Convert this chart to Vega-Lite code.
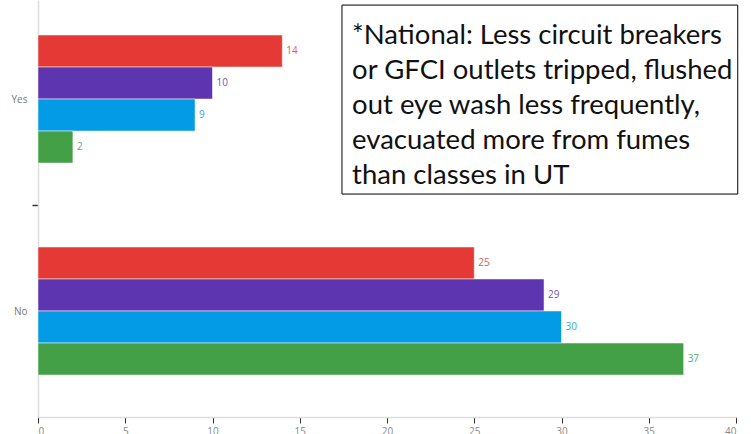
{
  "$schema": "https://vega.github.io/schema/vega-lite/v6.json",
  "width": 698,
  "height": 417,
  "autosize": "none",
  "padding": {"left": 38, "top": 0, "right": 15, "bottom": 17},
  "config": {"view": {"stroke": null}, "font": "Open Sans"},
  "data": {
    "values": [
      {"answer": "Yes", "group": "Series 1", "count": 14},
      {"answer": "Yes", "group": "Series 2", "count": 10},
      {"answer": "Yes", "group": "Series 3", "count": 9},
      {"answer": "Yes", "group": "Series 4", "count": 2},
      {"answer": "No", "group": "Series 1", "count": 25},
      {"answer": "No", "group": "Series 2", "count": 29},
      {"answer": "No", "group": "Series 3", "count": 30},
      {"answer": "No", "group": "Series 4", "count": 37}
    ]
  },
  "layer": [
    {
      "mark": {"type": "bar", "stroke": "white", "strokeWidth": 0.5},
      "encoding": {
        "y": {
          "field": "answer", "type": "nominal", "title": null,
          "scale": {"domain": ["Yes", "No"], "paddingInner": 0.396, "paddingOuter": 0.1816, "align": 0.455},
          "axis": {"domainColor": "#dddddd", "domainWidth": 1.5, "labelColor": "#777777", "labelFontSize": 10, "labelPadding": 5, "tickOffset": -106, "labelOffset": 106, "tickColor": "#333333", "tickSize": 6, "tickWidth": 1.5}
        },
        "yOffset": {"field": "group", "sort": ["Series 1", "Series 2", "Series 3", "Series 4"], "scale": {"paddingInner": 0, "paddingOuter": 0}},
        "x": {
          "field": "count", "type": "quantitative", "title": null,
          "scale": {"domain": [0, 40], "nice": false},
          "axis": {"values": [0, 5, 10, 15, 20, 25, 30, 35, 40], "grid": false, "domainColor": "#dddddd", "domainWidth": 1.5, "labelColor": "#888888", "labelFontSize": 10, "labelPadding": 3, "tickColor": "#333333", "tickSize": 6, "tickWidth": 1}
        },
        "color": {
          "field": "group", "legend": null,
          "scale": {"domain": ["Series 1", "Series 2", "Series 3", "Series 4"], "range": ["#E53935", "#5E35B1", "#039BE5", "#43A047"]}
        }
      }
    },
    {
      "mark": {"type": "text", "align": "left", "baseline": "middle", "dx": 4, "fontSize": 10, "opacity": 0.85},
      "encoding": {
        "y": {"field": "answer", "type": "nominal", "scale": {"domain": ["Yes", "No"]}},
        "yOffset": {"field": "group", "sort": ["Series 1", "Series 2", "Series 3", "Series 4"]},
        "x": {"field": "count", "type": "quantitative"},
        "text": {"field": "count"},
        "color": {"field": "group", "legend": null}
      }
    },
    {
      "data": {"values": [{}]},
      "mark": {"type": "rect", "fill": "white", "stroke": "black", "strokeWidth": 1},
      "encoding": {
        "x": {"datum": 17.42, "type": "quantitative"},
        "x2": {"datum": 40.1},
        "y": {"datum": "Yes", "type": "nominal", "bandPosition": -0.234, "scale": {"domain": ["Yes", "No"]}},
        "y2": {"datum": "Yes", "bandPosition": 1.242}
      }
    },
    {
      "data": {"values": [{"note": "*National: Less circuit breakers|or GFCI outlets tripped, flushed|out eye wash less frequently,|evacuated more from fumes|than classes in UT"}]},
      "mark": {"type": "text", "align": "left", "baseline": "top", "font": "Lato", "fontSize": 27.5, "lineHeight": 35, "lineBreak": "|", "color": "#111111"},
      "encoding": {
        "x": {"datum": 18.0, "type": "quantitative"},
        "y": {"datum": "Yes", "type": "nominal", "bandPosition": -0.105, "scale": {"domain": ["Yes", "No"]}},
        "text": {"field": "note"}
      }
    }
  ]
}
